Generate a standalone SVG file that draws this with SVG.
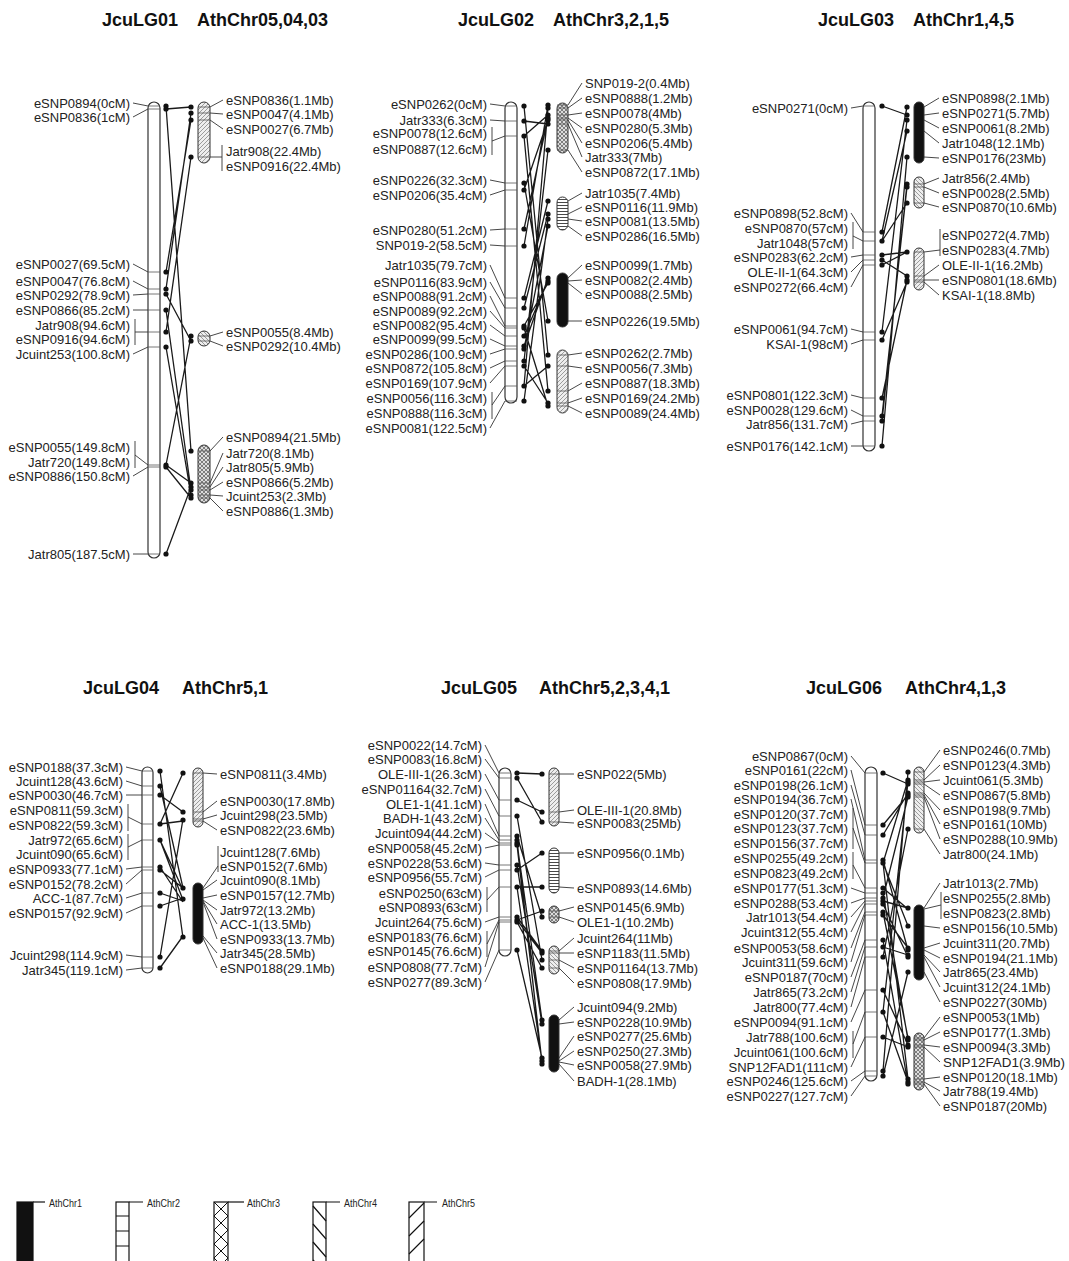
<svg xmlns="http://www.w3.org/2000/svg" width="1069" height="1261" viewBox="0 0 1069 1261">
<style>
text{font-family:"Liberation Sans",Arial,sans-serif;fill:#222}
.t{font-size:18px;font-weight:bold;fill:#111}
.l{font-size:13px;text-anchor:end}
.r{font-size:13px}
.bar{fill:#fff;stroke:#333;stroke-width:1.2}
.seg{stroke:#333;stroke-width:1}
.mk{stroke:#555;stroke-width:0.8;fill:none}
.ld{stroke:#333;stroke-width:0.9;fill:none}
.cn{stroke:#1a1a1a;stroke-width:1.3;fill:none}
.dl circle,.dr circle{fill:#111}
.lg{font-size:11px}
</style>
<defs>
<pattern id="p5" patternUnits="userSpaceOnUse" width="4" height="4"><rect width="4" height="4" fill="#eee"/><path d="M0,4L4,0M-1,1L1,-1M3,5L5,3" stroke="#777" stroke-width="0.7"/></pattern>
<pattern id="p4" patternUnits="userSpaceOnUse" width="4" height="4"><rect width="4" height="4" fill="#eee"/><path d="M0,0L4,4M-1,3L1,5M3,-1L5,1" stroke="#777" stroke-width="0.7"/></pattern>
<pattern id="p3" patternUnits="userSpaceOnUse" width="4" height="4"><rect width="4" height="4" fill="#ddd"/><path d="M0,0L4,4M4,0L0,4" stroke="#555" stroke-width="0.7"/></pattern>
<pattern id="p2" patternUnits="userSpaceOnUse" width="4" height="3"><rect width="4" height="3" fill="#fff"/><path d="M0,1.5H4" stroke="#333" stroke-width="0.9"/></pattern>
<pattern id="lp3" patternUnits="userSpaceOnUse" x="214" y="1202" width="14" height="14"><path d="M0,0L14,14M14,0L0,14" stroke="#111" stroke-width="1"/></pattern>
</defs>

<g id="titles">
<text class="t" x="102" y="26">JcuLG01</text><text class="t" x="197" y="26">AthChr05,04,03</text>
<text class="t" x="458" y="26">JcuLG02</text><text class="t" x="553" y="26">AthChr3,2,1,5</text>
<text class="t" x="818" y="26">JcuLG03</text><text class="t" x="913" y="26">AthChr1,4,5</text>
<text class="t" x="83" y="694">JcuLG04</text><text class="t" x="182" y="694">AthChr5,1</text>
<text class="t" x="441" y="694">JcuLG05</text><text class="t" x="539" y="694">AthChr5,2,3,4,1</text>
<text class="t" x="806" y="694">JcuLG06</text><text class="t" x="905" y="694">AthChr4,1,3</text>
</g>

<!-- ================= LG01 ================= -->
<g id="JcuLG01">
<rect class="bar" x="148" y="102" width="12" height="456" rx="6"/>
<path class="mk" d="M148,106H160M148,109H160M148,272H160M148,289H160M148,294H160M148,310H160M148,332H160M148,347H160M148,465H160M148,467H160M148,554H160"/>
<path class="ld" d="M133,103L148,106M133,117L148,109M133,264L148,272M133,281L148,289M133,295L148,294M133,310H148M135,319V345M135,332H148M133,354L148,347M135,441V468M135,455L148,465M133,476L148,467M133,554H148"/>
<text class="l" x="130" y="107.5">eSNP0894(0cM)</text>
<text class="l" x="130" y="121.5">eSNP0836(1cM)</text>
<text class="l" x="130" y="268.5">eSNP0027(69.5cM)</text>
<text class="l" x="130" y="285.5">eSNP0047(76.8cM)</text>
<text class="l" x="130" y="299.5">eSNP0292(78.9cM)</text>
<text class="l" x="130" y="314.5">eSNP0866(85.2cM)</text>
<text class="l" x="130" y="329.5">Jatr908(94.6cM)</text>
<text class="l" x="130" y="343.5">eSNP0916(94.6cM)</text>
<text class="l" x="130" y="358.5">Jcuint253(100.8cM)</text>
<text class="l" x="130" y="451.5">eSNP0055(149.8cM)</text>
<text class="l" x="130" y="466.5">Jatr720(149.8cM)</text>
<text class="l" x="130" y="480.5">eSNP0886(150.8cM)</text>
<text class="l" x="130" y="558.5">Jatr805(187.5cM)</text>
</g>
<g id="Ath-LG01">
<rect class="seg" x="198" y="102" width="12" height="61" rx="6" fill="url(#p5)"/>
<rect class="seg" x="198" y="331" width="12" height="15" rx="6" fill="url(#p4)"/>
<rect class="seg" x="198" y="445" width="12" height="58" rx="6" fill="url(#p3)"/>
<path class="mk" d="M198,107H210M198,113H210M198,120H210M198,157H210M198,336H210M198,341H210M198,451H210M198,483H210M198,487H210M198,490H210M198,495H210M198,498H210"/>
<path class="ld" d="M210,107L223,100M210,113L223,114M210,120L223,129M222,145V171M210,157H222M210,336L223,332M210,341L223,346M210,451L223,437M210,483L223,453M210,487L223,467M210,490L223,482M210,495L223,496M210,498L223,511"/>
<text class="r" x="226" y="104.5">eSNP0836(1.1Mb)</text>
<text class="r" x="226" y="118.5">eSNP0047(4.1Mb)</text>
<text class="r" x="226" y="133.5">eSNP0027(6.7Mb)</text>
<text class="r" x="226" y="155.5">Jatr908(22.4Mb)</text>
<text class="r" x="226" y="170.5">eSNP0916(22.4Mb)</text>
<text class="r" x="226" y="336.5">eSNP0055(8.4Mb)</text>
<text class="r" x="226" y="350.5">eSNP0292(10.4Mb)</text>
<text class="r" x="226" y="441.5">eSNP0894(21.5Mb)</text>
<text class="r" x="226" y="457.5">Jatr720(8.1Mb)</text>
<text class="r" x="226" y="471.5">Jatr805(5.9Mb)</text>
<text class="r" x="226" y="486.5">eSNP0866(5.2Mb)</text>
<text class="r" x="226" y="500.5">Jcuint253(2.3Mb)</text>
<text class="r" x="226" y="515.5">eSNP0886(1.3Mb)</text>
</g>

<!-- ================= LG02 ================= -->
<g id="JcuLG02">
<rect class="bar" x="505" y="102" width="12" height="301" rx="6"/>
<path class="mk" d="M505,106H517M505,121H517M505,136H517M505,183H517M505,190H517M505,229H517M505,246H517M505,298H517M505,308H517M505,326H517M505,328H517M505,336H517M505,346H517M505,349H517M505,361H517M505,366H517M505,386H517M505,401H517"/>
<path class="ld" d="M490,104L505,106M490,120L505,121M492,127V155M492,141L505,136M490,180L505,183M490,195L505,190M490,230L505,229M490,245L505,246M490,265L505,298M490,282L505,308M490,296L505,326M490,311L505,328M490,325L505,336M490,339L505,346M490,354L505,349M490,368L505,361M490,383L505,366M492,392V419M492,405L505,386M490,428L505,401"/>
<text class="l" x="487" y="108.5">eSNP0262(0cM)</text>
<text class="l" x="487" y="124.5">Jatr333(6.3cM)</text>
<text class="l" x="487" y="137.5">eSNP0078(12.6cM)</text>
<text class="l" x="487" y="153.5">eSNP0887(12.6cM)</text>
<text class="l" x="487" y="184.5">eSNP0226(32.3cM)</text>
<text class="l" x="487" y="199.5">eSNP0206(35.4cM)</text>
<text class="l" x="487" y="234.5">eSNP0280(51.2cM)</text>
<text class="l" x="487" y="249.5">SNP019-2(58.5cM)</text>
<text class="l" x="487" y="269.5">Jatr1035(79.7cM)</text>
<text class="l" x="487" y="286.5">eSNP0116(83.9cM)</text>
<text class="l" x="487" y="300.5">eSNP0088(91.2cM)</text>
<text class="l" x="487" y="315.5">eSNP0089(92.2cM)</text>
<text class="l" x="487" y="329.5">eSNP0082(95.4cM)</text>
<text class="l" x="487" y="343.5">eSNP0099(99.5cM)</text>
<text class="l" x="487" y="358.5">eSNP0286(100.9cM)</text>
<text class="l" x="487" y="372.5">eSNP0872(105.8cM)</text>
<text class="l" x="487" y="387.5">eSNP0169(107.9cM)</text>
<text class="l" x="487" y="402.5">eSNP0056(116.3cM)</text>
<text class="l" x="487" y="417.5">eSNP0888(116.3cM)</text>
<text class="l" x="487" y="432.5">eSNP0081(122.5cM)</text>
</g>
<g id="Ath-LG02">
<rect class="seg" x="557" y="103" width="11" height="50" rx="5.5" fill="url(#p3)"/>
<rect class="seg" x="557" y="197" width="11" height="33" rx="5.5" fill="url(#p2)"/>
<rect class="seg" x="557" y="273" width="11" height="54" rx="5.5" fill="#111"/>
<rect class="seg" x="557" y="350" width="11" height="63" rx="5.5" fill="url(#p5)"/>
<path class="mk" d="M557,105H568M557,108H568M557,115H568M557,118H568M557,120H568M557,124H568M557,150H568M557,355H568M557,366H568M557,391H568M557,403H568M557,406H568"/>
<path class="ld" d="M568,105L582,83M568,108L582,98M568,115L582,113M568,118L582,128M568,120L582,143M568,124L582,157M568,150L582,172M568,201L582,193M568,214L582,207M568,219L582,221M568,226L582,236M568,278L582,265M568,281L582,280M568,283L582,294M568,321L582,321M568,355L582,353M568,366L582,368M568,391L582,383M568,403L582,398M568,406L582,413"/>
<text class="r" x="585" y="87.5">SNP019-2(0.4Mb)</text>
<text class="r" x="585" y="102.5">eSNP0888(1.2Mb)</text>
<text class="r" x="585" y="117.5">eSNP0078(4Mb)</text>
<text class="r" x="585" y="132.5">eSNP0280(5.3Mb)</text>
<text class="r" x="585" y="147.5">eSNP0206(5.4Mb)</text>
<text class="r" x="585" y="161.5">Jatr333(7Mb)</text>
<text class="r" x="585" y="176.5">eSNP0872(17.1Mb)</text>
<text class="r" x="585" y="197.5">Jatr1035(7.4Mb)</text>
<text class="r" x="585" y="211.5">eSNP0116(11.9Mb)</text>
<text class="r" x="585" y="225.5">eSNP0081(13.5Mb)</text>
<text class="r" x="585" y="240.5">eSNP0286(16.5Mb)</text>
<text class="r" x="585" y="269.5">eSNP0099(1.7Mb)</text>
<text class="r" x="585" y="284.5">eSNP0082(2.4Mb)</text>
<text class="r" x="585" y="298.5">eSNP0088(2.5Mb)</text>
<text class="r" x="585" y="325.5">eSNP0226(19.5Mb)</text>
<text class="r" x="585" y="357.5">eSNP0262(2.7Mb)</text>
<text class="r" x="585" y="372.5">eSNP0056(7.3Mb)</text>
<text class="r" x="585" y="387.5">eSNP0887(18.3Mb)</text>
<text class="r" x="585" y="402.5">eSNP0169(24.2Mb)</text>
<text class="r" x="585" y="417.5">eSNP0089(24.4Mb)</text>
</g>

<!-- ================= LG03 ================= -->
<g id="JcuLG03">
<rect class="bar" x="863" y="102" width="12" height="349" rx="6"/>
<path class="mk" d="M863,106H875M863,232H875M863,241H875M863,255H875M863,260H875M863,265H875M863,332H875M863,340H875M863,398H875M863,416H875M863,421H875M863,446H875"/>
<path class="ld" d="M851,108L863,106M851,213L863,232M853,222V249M853,236L863,241M851,257L863,255M851,272L863,260M851,287L863,265M851,329L863,332M851,344L863,340M851,395L863,398M851,410L863,416M851,424L863,421M851,446H863"/>
<text class="l" x="848" y="112.5">eSNP0271(0cM)</text>
<text class="l" x="848" y="217.5">eSNP0898(52.8cM)</text>
<text class="l" x="848" y="232.5">eSNP0870(57cM)</text>
<text class="l" x="848" y="247.5">Jatr1048(57cM)</text>
<text class="l" x="848" y="261.5">eSNP0283(62.2cM)</text>
<text class="l" x="848" y="276.5">OLE-II-1(64.3cM)</text>
<text class="l" x="848" y="291.5">eSNP0272(66.4cM)</text>
<text class="l" x="848" y="333.5">eSNP0061(94.7cM)</text>
<text class="l" x="848" y="348.5">KSAI-1(98cM)</text>
<text class="l" x="848" y="399.5">eSNP0801(122.3cM)</text>
<text class="l" x="848" y="414.5">eSNP0028(129.6cM)</text>
<text class="l" x="848" y="428.5">Jatr856(131.7cM)</text>
<text class="l" x="848" y="450.5">eSNP0176(142.1cM)</text>
</g>
<g id="Ath-LG03">
<rect class="seg" x="914" y="102" width="10" height="61" rx="5" fill="#111"/>
<rect class="seg" x="914" y="177" width="10" height="31" rx="5" fill="url(#p4)"/>
<rect class="seg" x="914" y="248" width="10" height="42" rx="5" fill="url(#p5)"/>
<path class="mk" d="M914,184H924M914,187H924M914,203H924M914,252H924M914,276H924M914,280H924M914,282H924"/>
<path class="ld" d="M924,107L939,98M924,115L939,113M924,120L939,128M924,131L939,143M924,157L939,158M924,184L939,178M924,187L939,193M924,203L939,207M940,229V256M924,252L940,250M924,276L939,265M924,280L939,280M924,282L939,295"/>
<text class="r" x="942" y="102.5">eSNP0898(2.1Mb)</text>
<text class="r" x="942" y="117.5">eSNP0271(5.7Mb)</text>
<text class="r" x="942" y="132.5">eSNP0061(8.2Mb)</text>
<text class="r" x="942" y="147.5">Jatr1048(12.1Mb)</text>
<text class="r" x="942" y="162.5">eSNP0176(23Mb)</text>
<text class="r" x="942" y="182.5">Jatr856(2.4Mb)</text>
<text class="r" x="942" y="197.5">eSNP0028(2.5Mb)</text>
<text class="r" x="942" y="211.5">eSNP0870(10.6Mb)</text>
<text class="r" x="942" y="239.5">eSNP0272(4.7Mb)</text>
<text class="r" x="942" y="254.5">eSNP0283(4.7Mb)</text>
<text class="r" x="942" y="269.5">OLE-II-1(16.2Mb)</text>
<text class="r" x="942" y="284.5">eSNP0801(18.6Mb)</text>
<text class="r" x="942" y="299.5">KSAI-1(18.8Mb)</text>
</g>

<!-- ================= LG04 ================= -->
<g id="JcuLG04">
<rect class="bar" x="142" y="767" width="11" height="206" rx="5.5"/>
<path class="mk" d="M142,771H153M142,786H153M142,795H153M142,824H153M142,840H153M142,867H153M142,870H153M142,893H153M142,906H153M142,957H153M142,968H153"/>
<path class="ld" d="M126,767L142,771M126,781L142,786M126,795H142M128,804V831M128,817L142,824M128,834V860M128,847L142,840M126,869L142,867M126,884L142,870M126,898L142,893M126,913L142,906M126,955L142,957M126,970L142,968"/>
<text class="l" x="123" y="771.5">eSNP0188(37.3cM)</text>
<text class="l" x="123" y="785.5">Jcuint128(43.6cM)</text>
<text class="l" x="123" y="799.5">eSNP0030(46.7cM)</text>
<text class="l" x="123" y="814.5">eSNP0811(59.3cM)</text>
<text class="l" x="123" y="829.5">eSNP0822(59.3cM)</text>
<text class="l" x="123" y="844.5">Jatr972(65.6cM)</text>
<text class="l" x="123" y="858.5">Jcuint090(65.6cM)</text>
<text class="l" x="123" y="873.5">eSNP0933(77.1cM)</text>
<text class="l" x="123" y="888.5">eSNP0152(78.2cM)</text>
<text class="l" x="123" y="902.5">ACC-1(87.7cM)</text>
<text class="l" x="123" y="917.5">eSNP0157(92.9cM)</text>
<text class="l" x="123" y="959.5">Jcuint298(114.9cM)</text>
<text class="l" x="123" y="974.5">Jatr345(119.1cM)</text>
</g>
<g id="Ath-LG04">
<rect class="seg" x="193" y="768" width="10" height="59" rx="5" fill="url(#p5)"/>
<rect class="seg" x="193" y="883" width="10" height="61" rx="5" fill="#111"/>
<path class="mk" d="M193,773H203M193,812H203M193,819H203M193,821H203"/>
<path class="ld" d="M203,773L217,774M203,812L217,801M203,819L217,815M203,821L217,830M218,846V872M203,888L218,866M203,890L217,880M203,898L217,895M203,900L217,910M203,901L217,924M203,902L217,939M203,936L217,953M203,938L217,968"/>
<text class="r" x="220" y="778.5">eSNP0811(3.4Mb)</text>
<text class="r" x="220" y="805.5">eSNP0030(17.8Mb)</text>
<text class="r" x="220" y="819.5">Jcuint298(23.5Mb)</text>
<text class="r" x="220" y="834.5">eSNP0822(23.6Mb)</text>
<text class="r" x="220" y="856.5">Jcuint128(7.6Mb)</text>
<text class="r" x="220" y="870.5">eSNP0152(7.6Mb)</text>
<text class="r" x="220" y="884.5">Jcuint090(8.1Mb)</text>
<text class="r" x="220" y="899.5">eSNP0157(12.7Mb)</text>
<text class="r" x="220" y="914.5">Jatr972(13.2Mb)</text>
<text class="r" x="220" y="928.5">ACC-1(13.5Mb)</text>
<text class="r" x="220" y="943.5">eSNP0933(13.7Mb)</text>
<text class="r" x="220" y="957.5">Jatr345(28.5Mb)</text>
<text class="r" x="220" y="972.5">eSNP0188(29.1Mb)</text>
</g>

<!-- ================= LG05 ================= -->
<g id="JcuLG05">
<rect class="bar" x="499" y="768" width="12" height="188" rx="6"/>
<path class="mk" d="M499,773H511M499,778H511M499,800H511M499,816H511M499,836H511M499,840H511M499,843H511M499,845H511M499,865H511M499,870H511M499,887H511M499,917H511M499,920H511M499,922H511M499,950H511"/>
<path class="ld" d="M485,745L499,773M485,759L499,778M485,774L499,800M485,789L499,816M485,804L499,836M485,818L499,840M485,833L499,843M485,848L499,845M485,863L499,865M485,877L499,870M487,887V912M487,900L499,887M485,922L499,917M487,931V957M487,944L499,920M485,967L499,922M485,982L499,950"/>
<text class="l" x="482" y="749.5">eSNP0022(14.7cM)</text>
<text class="l" x="482" y="763.5">eSNP0083(16.8cM)</text>
<text class="l" x="482" y="778.5">OLE-III-1(26.3cM)</text>
<text class="l" x="482" y="793.5">eSNP01164(32.7cM)</text>
<text class="l" x="482" y="808.5">OLE1-1(41.1cM)</text>
<text class="l" x="482" y="822.5">BADH-1(43.2cM)</text>
<text class="l" x="482" y="837.5">Jcuint094(44.2cM)</text>
<text class="l" x="482" y="852.5">eSNP0058(45.2cM)</text>
<text class="l" x="482" y="867.5">eSNP0228(53.6cM)</text>
<text class="l" x="482" y="881.5">eSNP0956(55.7cM)</text>
<text class="l" x="482" y="897.5">eSNP0250(63cM)</text>
<text class="l" x="482" y="911.5">eSNP0893(63cM)</text>
<text class="l" x="482" y="926.5">Jcuint264(75.6cM)</text>
<text class="l" x="482" y="941.5">eSNP0183(76.6cM)</text>
<text class="l" x="482" y="955.5">eSNP0145(76.6cM)</text>
<text class="l" x="482" y="971.5">eSNP0808(77.7cM)</text>
<text class="l" x="482" y="986.5">eSNP0277(89.3cM)</text>
</g>
<g id="Ath-LG05">
<rect class="seg" x="549" y="768" width="10" height="58" rx="5" fill="url(#p5)"/>
<rect class="seg" x="549" y="848" width="10" height="45" rx="5" fill="url(#p2)"/>
<rect class="seg" x="549" y="906" width="10" height="17" rx="5" fill="url(#p3)"/>
<rect class="seg" x="549" y="946" width="10" height="28" rx="5" fill="url(#p4)"/>
<rect class="seg" x="549" y="1015" width="10" height="57" rx="5" fill="#111"/>
<path class="mk" d="M549,774H559M549,812H559M549,822H559M549,911H559M549,917H559M549,951H559M549,953H559M549,960H559M549,968H559"/>
<path class="ld" d="M559,774L574,774M559,812L574,810M559,822L574,823M559,853L574,853M559,887L574,888M559,911L574,907M559,917L574,922M559,951L574,938M559,953L574,953M559,960L574,968M559,968L574,983M559,1020L574,1007M559,1024L574,1022M559,1058L574,1036M559,1061L574,1051M559,1062L574,1065M559,1064L574,1081"/>
<text class="r" x="577" y="778.5">eSNP022(5Mb)</text>
<text class="r" x="577" y="814.5">OLE-III-1(20.8Mb)</text>
<text class="r" x="577" y="827.5">eSNP0083(25Mb)</text>
<text class="r" x="577" y="857.5">eSNP0956(0.1Mb)</text>
<text class="r" x="577" y="892.5">eSNP0893(14.6Mb)</text>
<text class="r" x="577" y="911.5">eSNP0145(6.9Mb)</text>
<text class="r" x="577" y="926.5">OLE1-1(10.2Mb)</text>
<text class="r" x="577" y="942.5">Jcuint264(11Mb)</text>
<text class="r" x="577" y="957.5">eSNP1183(11.5Mb)</text>
<text class="r" x="577" y="972.5">eSNP01164(13.7Mb)</text>
<text class="r" x="577" y="987.5">eSNP0808(17.9Mb)</text>
<text class="r" x="577" y="1011.5">Jcuint094(9.2Mb)</text>
<text class="r" x="577" y="1026.5">eSNP0228(10.9Mb)</text>
<text class="r" x="577" y="1040.5">eSNP0277(25.6Mb)</text>
<text class="r" x="577" y="1055.5">eSNP0250(27.3Mb)</text>
<text class="r" x="577" y="1069.5">eSNP0058(27.9Mb)</text>
<text class="r" x="577" y="1085.5">BADH-1(28.1Mb)</text>
</g>

<!-- ================= LG06 ================= -->
<g id="JcuLG06">
<rect class="bar" x="865" y="767" width="12" height="314" rx="6"/>
<path class="mk" d="M865,773H877M865,825H877M865,835H877M865,860H877M865,863H877M865,888H877M865,893H877M865,898H877M865,901H877M865,904H877M865,912H877M865,915H877M865,940H877M865,947H877M865,957H877M865,990H877M865,1012H877M865,1037H877M865,1071H877M865,1076H877"/>
<path class="ld" d="M851,756L865,773M851,770L865,825M851,785L865,835M851,799L865,860M853,808V849M853,828L865,863M853,852V879M853,865L865,888M851,888L865,893M851,903L865,898M851,917L865,901M851,932L865,904M851,948L865,912M851,962L865,915M851,977L865,940M851,992L865,947M851,1007L865,957M851,1022L865,990M853,1031V1058M853,1044L865,1012M851,1067L865,1037M851,1081L865,1071M851,1096L865,1076"/>
<text class="l" x="848" y="760.5">eSNP0867(0cM)</text>
<text class="l" x="848" y="774.5">eSNP0161(22cM)</text>
<text class="l" x="848" y="789.5">eSNP0198(26.1cM)</text>
<text class="l" x="848" y="803.5">eSNP0194(36.7cM)</text>
<text class="l" x="848" y="818.5">eSNP0120(37.7cM)</text>
<text class="l" x="848" y="832.5">eSNP0123(37.7cM)</text>
<text class="l" x="848" y="847.5">eSNP0156(37.7cM)</text>
<text class="l" x="848" y="862.5">eSNP0255(49.2cM)</text>
<text class="l" x="848" y="877.5">eSNP0823(49.2cM)</text>
<text class="l" x="848" y="892.5">eSNP0177(51.3cM)</text>
<text class="l" x="848" y="907.5">eSNP0288(53.4cM)</text>
<text class="l" x="848" y="921.5">Jatr1013(54.4cM)</text>
<text class="l" x="848" y="936.5">Jcuint312(55.4cM)</text>
<text class="l" x="848" y="952.5">eSNP0053(58.6cM)</text>
<text class="l" x="848" y="966.5">Jcuint311(59.6cM)</text>
<text class="l" x="848" y="981.5">eSNP0187(70cM)</text>
<text class="l" x="848" y="996.5">Jatr865(73.2cM)</text>
<text class="l" x="848" y="1011.5">Jatr800(77.4cM)</text>
<text class="l" x="848" y="1026.5">eSNP0094(91.1cM)</text>
<text class="l" x="848" y="1041.5">Jatr788(100.6cM)</text>
<text class="l" x="848" y="1056.5">Jcuint061(100.6cM)</text>
<text class="l" x="848" y="1071.5">SNP12FAD1(111cM)</text>
<text class="l" x="848" y="1085.5">eSNP0246(125.6cM)</text>
<text class="l" x="848" y="1100.5">eSNP0227(127.7cM)</text>
</g>
<g id="Ath-LG06">
<rect class="seg" x="914" y="767" width="10" height="66" rx="5" fill="url(#p4)"/>
<rect class="seg" x="914" y="905" width="10" height="75" rx="5" fill="#111"/>
<rect class="seg" x="914" y="1033" width="10" height="57" rx="5" fill="url(#p3)"/>
<path class="mk" d="M914,772H924M914,780H924M914,782H924M914,784H924M914,793H924M914,795H924M914,797H924M914,829H924M914,1038H924M914,1040H924M914,1045H924M914,1047H924M914,1079H924M914,1082H924M914,1084H924"/>
<path class="ld" d="M924,772L940,750M924,780L940,765M924,782L940,780M924,784L940,795M924,793L940,810M924,795L940,824M924,797L940,839M924,829L940,854M924,908L940,883M941,892V919M924,909L941,905M924,926L940,928M924,948L940,943M924,950L940,958M924,955L940,972M924,957L940,987M924,972L940,1002M924,1038L940,1017M924,1040L940,1032M924,1045L940,1047M924,1047L940,1062M924,1079L940,1077M924,1082L940,1091M924,1084L940,1106"/>
<text class="r" x="943" y="754.5">eSNP0246(0.7Mb)</text>
<text class="r" x="943" y="769.5">eSNP0123(4.3Mb)</text>
<text class="r" x="943" y="784.5">Jcuint061(5.3Mb)</text>
<text class="r" x="943" y="799.5">eSNP0867(5.8Mb)</text>
<text class="r" x="943" y="814.5">eSNP0198(9.7Mb)</text>
<text class="r" x="943" y="828.5">eSNP0161(10Mb)</text>
<text class="r" x="943" y="843.5">eSNP0288(10.9Mb)</text>
<text class="r" x="943" y="858.5">Jatr800(24.1Mb)</text>
<text class="r" x="943" y="887.5">Jatr1013(2.7Mb)</text>
<text class="r" x="943" y="902.5">eSNP0255(2.8Mb)</text>
<text class="r" x="943" y="917.5">eSNP0823(2.8Mb)</text>
<text class="r" x="943" y="932.5">eSNP0156(10.5Mb)</text>
<text class="r" x="943" y="947.5">Jcuint311(20.7Mb)</text>
<text class="r" x="943" y="962.5">eSNP0194(21.1Mb)</text>
<text class="r" x="943" y="976.5">Jatr865(23.4Mb)</text>
<text class="r" x="943" y="991.5">Jcuint312(24.1Mb)</text>
<text class="r" x="943" y="1006.5">eSNP0227(30Mb)</text>
<text class="r" x="943" y="1021.5">eSNP0053(1Mb)</text>
<text class="r" x="943" y="1036.5">eSNP0177(1.3Mb)</text>
<text class="r" x="943" y="1051.5">eSNP0094(3.3Mb)</text>
<text class="r" x="943" y="1066.5" textLength="122" lengthAdjust="spacingAndGlyphs">SNP12FAD1(3.9Mb)</text>
<text class="r" x="943" y="1081.5">eSNP0120(18.1Mb)</text>
<text class="r" x="943" y="1095.5">Jatr788(19.4Mb)</text>
<text class="r" x="943" y="1110.5">eSNP0187(20Mb)</text>
</g>

<!-- ================= connectors ================= -->
<g id="connectors">
<path class="cn" d="M166,106L191,451M166,109L191,107M166,272L191,120M166,289L191,113M166,294L191,341M166,310L191,490M166,332L191,157M166,347L191,495M166,465L191,336M166,465L191,483M166,467L191,498M166,554L191,487"/>
<path class="cn" d="M524,106L548,355M524,121L548,124M524,136L548,115M524,136L548,391M524,183L548,321M524,190L548,120M524,229L548,118M524,246L548,105M524,298L548,201M524,308L548,214M524,326L548,283M524,328L548,406M524,336L548,281M524,346L548,278M524,349L548,226M524,361L548,150M524,366L548,403M524,386L548,366M524,386L548,108M524,401L548,219"/>
<path class="cn" d="M882,106L907,115M882,232L907,107M882,241L907,203M882,241L907,131M882,255L907,252M882,260L907,276M882,265L907,252M882,332L907,120M882,340L907,282M882,398L907,280M882,416L907,187M882,421L907,184M882,446L907,157"/>
<path class="cn" d="M160,771L183,938M160,786L183,888M160,795L183,812M160,824L183,773M160,824L183,821M160,840L183,900M160,840L183,890M160,867L183,902M160,870L183,888M160,893L183,901M160,906L183,898M160,957L183,819M160,968L183,936"/>
<path class="cn" d="M517,773L542,774M517,778L542,822M517,800L542,812M517,816L542,960M517,836L542,917M517,840L542,1064M517,843L542,1020M517,845L542,1062M517,865L542,1024M517,870L542,853M517,887L542,1061M517,887L542,887M517,917L542,951M517,920L542,953M517,920L542,911M517,922L542,968M517,950L542,1058"/>
<path class="cn" d="M883,773L908,784M883,825L908,795M883,835L908,793M883,860L908,950M883,863L908,1079M883,863L908,780M883,863L908,926M883,888L908,909M883,893L908,1040M883,898L908,797M883,901L908,908M883,904L908,957M883,912L908,1038M883,915L908,948M883,940L908,1084M883,947L908,955M883,957L908,829M883,990L908,1045M883,1012L908,1082M883,1012L908,782M883,1037L908,1047M883,1071L908,772M883,1076L908,972"/>
<g class="dl">
<circle cx="166" cy="106" r="2.6"/><circle cx="166" cy="109" r="2.6"/><circle cx="166" cy="272" r="2.6"/><circle cx="166" cy="289" r="2.6"/><circle cx="166" cy="294" r="2.6"/><circle cx="166" cy="310" r="2.6"/><circle cx="166" cy="332" r="2.6"/><circle cx="166" cy="347" r="2.6"/><circle cx="166" cy="465" r="2.6"/><circle cx="166" cy="467" r="2.6"/><circle cx="166" cy="554" r="2.6"/>
<circle cx="524" cy="106" r="2.6"/><circle cx="524" cy="121" r="2.6"/><circle cx="524" cy="136" r="2.6"/><circle cx="524" cy="183" r="2.6"/><circle cx="524" cy="190" r="2.6"/><circle cx="524" cy="229" r="2.6"/><circle cx="524" cy="246" r="2.6"/><circle cx="524" cy="298" r="2.6"/><circle cx="524" cy="308" r="2.6"/><circle cx="524" cy="326" r="2.6"/><circle cx="524" cy="328" r="2.6"/><circle cx="524" cy="336" r="2.6"/><circle cx="524" cy="346" r="2.6"/><circle cx="524" cy="349" r="2.6"/><circle cx="524" cy="361" r="2.6"/><circle cx="524" cy="366" r="2.6"/><circle cx="524" cy="386" r="2.6"/><circle cx="524" cy="401" r="2.6"/>
<circle cx="882" cy="106" r="2.6"/><circle cx="882" cy="232" r="2.6"/><circle cx="882" cy="241" r="2.6"/><circle cx="882" cy="255" r="2.6"/><circle cx="882" cy="260" r="2.6"/><circle cx="882" cy="265" r="2.6"/><circle cx="882" cy="332" r="2.6"/><circle cx="882" cy="340" r="2.6"/><circle cx="882" cy="398" r="2.6"/><circle cx="882" cy="416" r="2.6"/><circle cx="882" cy="421" r="2.6"/><circle cx="882" cy="446" r="2.6"/>
<circle cx="160" cy="771" r="2.6"/><circle cx="160" cy="786" r="2.6"/><circle cx="160" cy="795" r="2.6"/><circle cx="160" cy="824" r="2.6"/><circle cx="160" cy="840" r="2.6"/><circle cx="160" cy="867" r="2.6"/><circle cx="160" cy="870" r="2.6"/><circle cx="160" cy="893" r="2.6"/><circle cx="160" cy="906" r="2.6"/><circle cx="160" cy="957" r="2.6"/><circle cx="160" cy="968" r="2.6"/>
<circle cx="517" cy="773" r="2.6"/><circle cx="517" cy="778" r="2.6"/><circle cx="517" cy="800" r="2.6"/><circle cx="517" cy="816" r="2.6"/><circle cx="517" cy="836" r="2.6"/><circle cx="517" cy="840" r="2.6"/><circle cx="517" cy="843" r="2.6"/><circle cx="517" cy="845" r="2.6"/><circle cx="517" cy="865" r="2.6"/><circle cx="517" cy="870" r="2.6"/><circle cx="517" cy="887" r="2.6"/><circle cx="517" cy="917" r="2.6"/><circle cx="517" cy="920" r="2.6"/><circle cx="517" cy="922" r="2.6"/><circle cx="517" cy="950" r="2.6"/>
<circle cx="883" cy="773" r="2.6"/><circle cx="883" cy="825" r="2.6"/><circle cx="883" cy="835" r="2.6"/><circle cx="883" cy="860" r="2.6"/><circle cx="883" cy="863" r="2.6"/><circle cx="883" cy="888" r="2.6"/><circle cx="883" cy="893" r="2.6"/><circle cx="883" cy="898" r="2.6"/><circle cx="883" cy="901" r="2.6"/><circle cx="883" cy="904" r="2.6"/><circle cx="883" cy="912" r="2.6"/><circle cx="883" cy="915" r="2.6"/><circle cx="883" cy="940" r="2.6"/><circle cx="883" cy="947" r="2.6"/><circle cx="883" cy="957" r="2.6"/><circle cx="883" cy="990" r="2.6"/><circle cx="883" cy="1012" r="2.6"/><circle cx="883" cy="1037" r="2.6"/><circle cx="883" cy="1071" r="2.6"/><circle cx="883" cy="1076" r="2.6"/>
</g>
<g class="dr">
<circle cx="191" cy="107" r="2.6"/><circle cx="191" cy="113" r="2.6"/><circle cx="191" cy="120" r="2.6"/><circle cx="191" cy="157" r="2.6"/><circle cx="191" cy="336" r="2.6"/><circle cx="191" cy="341" r="2.6"/><circle cx="191" cy="451" r="2.6"/><circle cx="191" cy="483" r="2.6"/><circle cx="191" cy="487" r="2.6"/><circle cx="191" cy="490" r="2.6"/><circle cx="191" cy="495" r="2.6"/><circle cx="191" cy="498" r="2.6"/>
<circle cx="548" cy="105" r="2.6"/><circle cx="548" cy="108" r="2.6"/><circle cx="548" cy="115" r="2.6"/><circle cx="548" cy="118" r="2.6"/><circle cx="548" cy="120" r="2.6"/><circle cx="548" cy="124" r="2.6"/><circle cx="548" cy="150" r="2.6"/><circle cx="548" cy="201" r="2.6"/><circle cx="548" cy="214" r="2.6"/><circle cx="548" cy="219" r="2.6"/><circle cx="548" cy="226" r="2.6"/><circle cx="548" cy="278" r="2.6"/><circle cx="548" cy="281" r="2.6"/><circle cx="548" cy="283" r="2.6"/><circle cx="548" cy="321" r="2.6"/><circle cx="548" cy="355" r="2.6"/><circle cx="548" cy="366" r="2.6"/><circle cx="548" cy="391" r="2.6"/><circle cx="548" cy="403" r="2.6"/><circle cx="548" cy="406" r="2.6"/>
<circle cx="907" cy="107" r="2.6"/><circle cx="907" cy="115" r="2.6"/><circle cx="907" cy="120" r="2.6"/><circle cx="907" cy="131" r="2.6"/><circle cx="907" cy="157" r="2.6"/><circle cx="907" cy="184" r="2.6"/><circle cx="907" cy="187" r="2.6"/><circle cx="907" cy="203" r="2.6"/><circle cx="907" cy="252" r="2.6"/><circle cx="907" cy="276" r="2.6"/><circle cx="907" cy="280" r="2.6"/><circle cx="907" cy="282" r="2.6"/>
<circle cx="183" cy="773" r="2.6"/><circle cx="183" cy="812" r="2.6"/><circle cx="183" cy="820" r="2.6"/><circle cx="183" cy="888" r="2.6"/><circle cx="183" cy="899" r="2.6"/><circle cx="183" cy="937" r="2.6"/>
<circle cx="542" cy="774" r="2.6"/><circle cx="542" cy="812" r="2.6"/><circle cx="542" cy="822" r="2.6"/><circle cx="542" cy="853" r="2.6"/><circle cx="542" cy="887" r="2.6"/><circle cx="542" cy="911" r="2.6"/><circle cx="542" cy="917" r="2.6"/><circle cx="542" cy="951" r="2.6"/><circle cx="542" cy="953" r="2.6"/><circle cx="542" cy="960" r="2.6"/><circle cx="542" cy="968" r="2.6"/><circle cx="542" cy="1020" r="2.6"/><circle cx="542" cy="1024" r="2.6"/><circle cx="542" cy="1058" r="2.6"/><circle cx="542" cy="1061" r="2.6"/><circle cx="542" cy="1064" r="2.6"/>
<circle cx="908" cy="772" r="2.6"/><circle cx="908" cy="780" r="2.6"/><circle cx="908" cy="782" r="2.6"/><circle cx="908" cy="784" r="2.6"/><circle cx="908" cy="793" r="2.6"/><circle cx="908" cy="795" r="2.6"/><circle cx="908" cy="797" r="2.6"/><circle cx="908" cy="829" r="2.6"/><circle cx="908" cy="908" r="2.6"/><circle cx="908" cy="926" r="2.6"/><circle cx="908" cy="948" r="2.6"/><circle cx="908" cy="950" r="2.6"/><circle cx="908" cy="955" r="2.6"/><circle cx="908" cy="957" r="2.6"/><circle cx="908" cy="972" r="2.6"/><circle cx="908" cy="1038" r="2.6"/><circle cx="908" cy="1040" r="2.6"/><circle cx="908" cy="1045" r="2.6"/><circle cx="908" cy="1047" r="2.6"/><circle cx="908" cy="1079" r="2.6"/><circle cx="908" cy="1082" r="2.6"/><circle cx="908" cy="1084" r="2.6"/>
</g>
</g>

<!-- ================= legend ================= -->
<g id="legend" stroke="#111" stroke-width="1.2">
<g id="leg-chr1"><rect x="17" y="1202" width="16" height="62" fill="#111"/><path d="M33,1202H45"/><text class="lg" x="49" y="1207" stroke="none" textLength="33" lengthAdjust="spacingAndGlyphs">AthChr1</text></g>
<g id="leg-chr2"><rect x="116" y="1202" width="13" height="62" fill="#fff"/><path d="M116,1216H129M116,1231H129M116,1246H129M129,1202H143"/><text class="lg" x="147" y="1207" stroke="none" textLength="33" lengthAdjust="spacingAndGlyphs">AthChr2</text></g>
<g id="leg-chr3"><rect x="214" y="1202" width="14" height="62" fill="url(#lp3)"/><path d="M228,1202H244"/><text class="lg" x="247" y="1207" stroke="none" textLength="33" lengthAdjust="spacingAndGlyphs">AthChr3</text></g>
<g id="leg-chr4"><rect x="313" y="1202" width="13" height="62" fill="#fff"/><path d="M313,1206L326,1221M313,1224L326,1239M313,1242L326,1257M313,1260L315,1262M326,1202H340"/><text class="lg" x="344" y="1207" stroke="none" textLength="33" lengthAdjust="spacingAndGlyphs">AthChr4</text></g>
<g id="leg-chr5"><rect x="409" y="1202" width="15" height="62" fill="#fff"/><path d="M409,1218L424,1203M409,1236L424,1221M409,1254L424,1239M424,1202H437"/><text class="lg" x="442" y="1207" stroke="none" textLength="33" lengthAdjust="spacingAndGlyphs">AthChr5</text></g>
</g>
</svg>
